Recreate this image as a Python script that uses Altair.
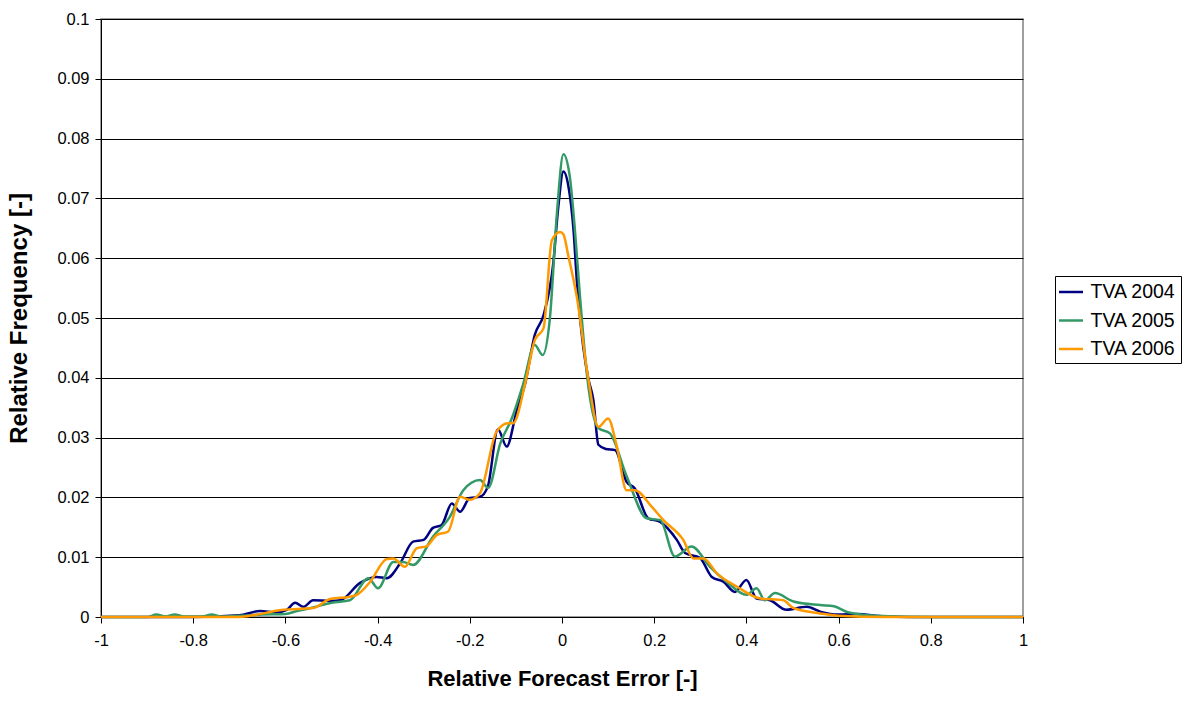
import altair as alt
import pandas as pd

series_names = ["TVA 2004", "TVA 2005", "TVA 2006"]
series_colors = ["#000080", "#339966", "#FF9900"]

x_2004 = [-1.0, -0.8, -0.7, -0.655, -0.62, -0.597, -0.579, -0.561, -0.54, -0.503, -0.481, -0.438,
          -0.402, -0.38, -0.351, -0.323, -0.30, -0.28, -0.261, -0.239, -0.221, -0.2, -0.178, -0.161,
          -0.139, -0.12, -0.098, -0.08, -0.059, -0.04, -0.019, -0.008, 0.003, 0.014, 0.025, 0.032,
          0.046, 0.057, 0.068, 0.079, 0.095, 0.115, 0.14, 0.158, 0.187, 0.213, 0.249, 0.267, 0.299,
          0.325, 0.35, 0.375, 0.4, 0.422, 0.451, 0.487, 0.531, 0.56, 0.6, 0.64, 0.7, 0.8, 1.0]
y_2004 = [0, 0, 0.0003, 0.001, 0.0008, 0.0012, 0.0024, 0.0017, 0.0028, 0.0027, 0.0028, 0.0057,
          0.0067, 0.0065, 0.009, 0.0126, 0.0129, 0.0149, 0.0154, 0.019, 0.0176, 0.0199, 0.0201, 0.0218,
          0.0314, 0.0285, 0.0346, 0.039, 0.0472, 0.0505, 0.0591, 0.0686, 0.0745, 0.072, 0.0647, 0.0564,
          0.0452, 0.0399, 0.0363, 0.0288, 0.0281, 0.0279, 0.0226, 0.0215, 0.0165, 0.0159, 0.0129, 0.0107, 0.0099,
          0.0067, 0.0059, 0.0042, 0.0062, 0.0031, 0.0028, 0.0012, 0.0017, 0.0009, 0.0004, 0.0005, 0.0001, 0, 0]

x_2005 = [-1.0, -0.9, -0.88, -0.86, -0.84, -0.82, -0.78, -0.76, -0.74, -0.7, -0.65, -0.6, -0.575,
          -0.54, -0.5, -0.46, -0.42, -0.399, -0.366, -0.345, -0.323, -0.28, -0.243, -0.214, -0.178,
          -0.16, -0.134, -0.109, -0.084, -0.059, -0.042, -0.026, -0.011, 0.003, 0.017, 0.028, 0.039,
          0.055, 0.079, 0.104, 0.14, 0.184, 0.213, 0.245, 0.281, 0.321, 0.357, 0.4, 0.422, 0.44, 0.462,
          0.502, 0.56, 0.59, 0.62, 0.68, 0.8, 1.0]
y_2005 = [0, 0, 0.0004, 0.0001, 0.0004, 0.0001, 0.0001, 0.0004, 0.0001, 0.0002, 0.0004, 0.0005, 0.001,
          0.0016, 0.0024, 0.0028, 0.0065, 0.0048, 0.0092, 0.0092, 0.0087, 0.0134, 0.0168, 0.0212, 0.0229,
          0.0216, 0.029, 0.0332, 0.039, 0.0455, 0.0438, 0.0502, 0.0675, 0.0774, 0.0736, 0.0647, 0.0536,
          0.0399, 0.0316, 0.0307, 0.0236, 0.0165, 0.0162, 0.0101, 0.0118, 0.0084, 0.0059, 0.0037, 0.0048, 0.0028, 0.004,
          0.0026, 0.002, 0.0018, 0.0008, 0.0002, 0, 0]

x_2006 = [-1.0, -0.7, -0.677, -0.605, -0.54, -0.503, -0.46, -0.445, -0.416, -0.38, -0.366, -0.341,
          -0.315, -0.294, -0.272, -0.247, -0.221, -0.2, -0.178, -0.142, -0.117, -0.106, -0.08, -0.059,
          -0.04, -0.022, -0.004, 0.003, 0.014, 0.032, 0.057, 0.079, 0.1, 0.119, 0.14, 0.158, 0.195, 0.22,
          0.263, 0.285, 0.307, 0.336, 0.379, 0.43, 0.48, 0.502, 0.56, 0.6, 0.7, 1.0]
y_2006 = [0, 0, 0.0002, 0.0012, 0.0015, 0.003, 0.0034, 0.0037, 0.0059, 0.0097, 0.0098, 0.0084,
          0.0115, 0.0118, 0.0137, 0.0143, 0.0201, 0.0196, 0.0207, 0.031, 0.0324, 0.0324, 0.039, 0.0463,
          0.0483, 0.063, 0.0644, 0.064, 0.0603, 0.0536, 0.0399, 0.0318, 0.0332, 0.0285, 0.0212, 0.0212, 0.0184, 0.0162,
          0.0129, 0.0098, 0.0098, 0.0073, 0.0051, 0.0031, 0.0028, 0.0015, 0.0006, 0.0002, 0, 0]

x_ticks = [-1, -0.8, -0.6, -0.4, -0.2, 0, 0.2, 0.4, 0.6, 0.8, 1]
y_ticks = [0, 0.01, 0.02, 0.03, 0.04, 0.05, 0.06, 0.07, 0.08, 0.09, 0.1]

rows = []
for name, xs, ys in zip(series_names, [x_2004, x_2005, x_2006], [y_2004, y_2005, y_2006]):
    for i, (a, b) in enumerate(zip(xs, ys)):
        rows.append({"series": name, "x": a, "y": b, "order": i})
df = pd.DataFrame(rows)

FONT = "Liberation Sans"

chart = alt.Chart(df).mark_line(strokeWidth=2.5, interpolate="monotone").encode(
    x=alt.X("x:Q",
            scale=alt.Scale(domain=[-1, 1], nice=False, zero=False),
            axis=alt.Axis(values=x_ticks, grid=False, title="Relative Forecast Error [-]",
                          labelExpr="'' + round(datum.value*10)/10",
                          tickSize=6, tickColor="black", domainColor="black",
                          labelFontSize=16.5, labelPadding=9, labelColor="black",
                          titleFontSize=22, titleFontWeight="bold", titleColor="black",
                          titlePadding=20, labelFlush=False)),
    y=alt.Y("y:Q",
            scale=alt.Scale(domain=[0, 0.1], nice=False),
            axis=alt.Axis(values=y_ticks, grid=True, gridColor="black", gridWidth=1,
                          title="Relative Frequency [-]",
                          labelExpr="'' + round(datum.value*100)/100",
                          tickSize=6, tickColor="black", domainColor="black",
                          labelFontSize=16.5, labelPadding=6, labelColor="black",
                          titleFontSize=24, titleFontWeight="bold", titleColor="black",
                          titlePadding=25, labelFlush=False)),
    color=alt.Color("series:N",
                    scale=alt.Scale(domain=series_names, range=series_colors),
                    legend=alt.Legend(title=None, orient="none", legendX=954, legendY=257,
                                      strokeColor="black", padding=4.5,
                                      symbolType="M-1.2,0L1.2,0", symbolSize=400, symbolStrokeWidth=2.5,
                                      labelFontSize=19.5, labelFont=FONT, labelColor="black",
                                      rowPadding=7.5, labelOffset=8)),
    order="order:Q",
).properties(
    width=922, height=598,
    autosize=alt.AutoSizeParams(type="none"),
    padding={"left": 101, "top": 19, "right": 164, "bottom": 85},
).configure(font=FONT).configure_view(stroke="#808080", strokeWidth=1.5)

chart.save("out.html", embed_options={"renderer": "svg", "actions": False})
